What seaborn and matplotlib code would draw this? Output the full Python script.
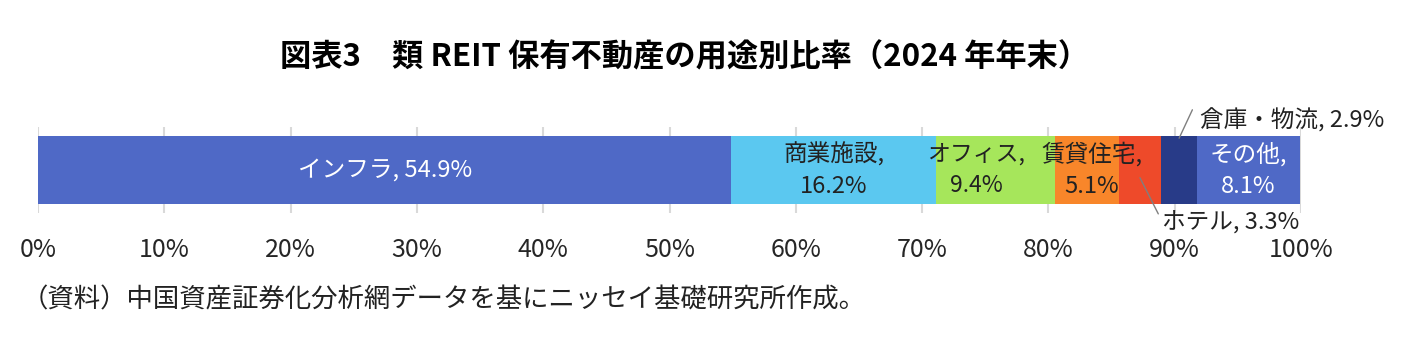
import matplotlib
matplotlib.use("Agg")
import matplotlib.pyplot as plt
import seaborn as sns
import numpy as np
import pandas as pd

categories = ["インフラ", "商業施設", "オフィス", "賃貸住宅", "ホテル", "倉庫・物流", "その他"]
values = [54.9, 16.2, 9.4, 5.1, 3.3, 2.9, 8.1]
colors = ["#4F69C6", "#5BC8F0", "#A6E65B", "#F8862A", "#EE4A2A", "#283B88", "#4F69C6"]
xticks = [0, 10, 20, 30, 40, 50, 60, 70, 80, 90, 100]
title = "図表3　類 REIT 保有不動産の用途別比率（2024 年年末）"
note = "（資料）中国資産証券化分析網データを基にニッセイ基礎研究所作成。"

sns.set_theme(style="white")
plt.rcParams["font.family"] = ["Noto Sans CJK JP", "DejaVu Sans"]

fig = plt.figure(figsize=(14.12, 3.52), dpi=100)
ax = fig.add_axes([38 / 1412, 1 - 213 / 352, (1301 - 38) / 1412, 86 / 352])

cum = np.cumsum(values)
starts = cum - np.array(values)
row = "2024"
# draw cumulative bars from the longest to the shortest (stacked effect)
for i in range(len(values) - 1, -1, -1):
    df = pd.DataFrame({"value": [cum[i]], "row": [row]})
    sns.barplot(data=df, x="value", y="row", orient="h", color=colors[i],
                width=0.8, saturation=1, ax=ax, zorder=2, linewidth=0)

ax.set_xlim(0, 100)
ax.set_ylim(0.5, -0.5)
ax.set_xticks(xticks)
ax.set_xticklabels([f"{t}%" for t in xticks], fontsize=18)
ax.tick_params(axis="x", length=0, pad=17)
ax.set_yticks([])
ax.set_xlabel("")
ax.set_ylabel("")
for s in ax.spines.values():
    s.set_visible(False)
ax.grid(axis="x", color="#D9D9D9", linewidth=1.5, zorder=0)
ax.set_axisbelow(True)

mid = starts + np.array(values) / 2
fs = 17
ls = 1.45
# in-bar labels
ax.text(mid[0], 0, f"{categories[0]}, {values[0]}%", ha="center", va="center",
        color="white", fontsize=fs, zorder=5)
ax.text(mid[1], 0, f"{categories[1]},\n{values[1]}%", ha="center", va="center",
        color="#222222", fontsize=fs, linespacing=ls, zorder=5)
ax.text(mid[2] - 1.5, 0, f"{categories[2]},\n{values[2]}%", ha="center", va="center",
        color="#222222", fontsize=fs - 0.5, linespacing=ls * 17 / 16.5, zorder=5)
ax.text(mid[3] + 0.4, 0, f"{categories[3]},\n{values[3]}%", ha="center", va="center",
        color="#222222", fontsize=fs, linespacing=ls, zorder=5)
ax.text(mid[6], 0, f"{categories[6]},\n{values[6]}%", ha="center", va="center",
        color="white", fontsize=fs, linespacing=ls, zorder=5)

# leader-line labels
ax.plot([mid[4], mid[4] + 1.45], [0.09, 0.51], color="#7F7F7F", lw=1, zorder=6,
        clip_on=False)
ax.text(mid[4] + 1.75, 0.61, f"{categories[4]}, {values[4]}%", ha="left", va="center",
        fontsize=fs, color="#222222", zorder=5)
ax.plot([mid[5], mid[5] + 1.05], [-0.37, -0.70], color="#7F7F7F", lw=1, zorder=6,
        clip_on=False)
ax.text(mid[5] + 1.65, -0.58, f"{categories[5]}, {values[5]}%", ha="left", va="center",
        fontsize=fs, color="#222222", zorder=5)

fig.text(685 / 1412, 0.838, title, ha="center", va="center", fontsize=22.5, fontweight="bold",
         color="black")
fig.text(22 / 1412, 1 - 300 / 352, note, ha="left", va="center", fontsize=19, color="#222222")

fig.savefig("out.png", dpi=100, facecolor="white")
